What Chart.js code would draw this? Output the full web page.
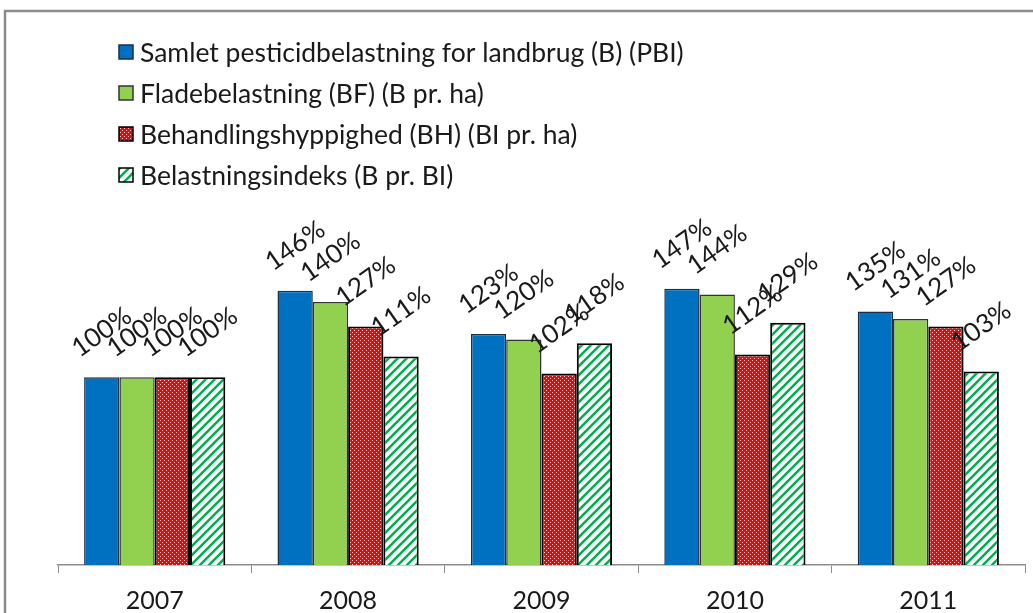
<!DOCTYPE html>
<html>
<head>
<meta charset="utf-8">
<script src="https://cdn.jsdelivr.net/npm/chart.js@4/dist/chart.umd.min.js"></script>
<style>
  html, body { margin: 0; padding: 0; background: #fff; }
  #wrap { width: 1033px; height: 613px; position: relative; }
</style>
</head>
<body>
<div id="wrap"><canvas id="chart" width="1033" height="613"></canvas></div>
<script>
  const years = ["2007", "2008", "2009", "2010", "2011"];
  const seriesNames = [
    "Samlet pesticidbelastning for landbrug (B) (PBI)",
    "Fladebelastning (BF) (B pr. ha)",
    "Behandlingshyppighed (BH) (BI pr. ha)",
    "Belastningsindeks (B pr. BI)"
  ];
  const pbi = [100, 146, 123, 147, 135];
  const bf = [100, 140, 120, 144, 131];
  const bh = [100, 127, 102, 112, 127];
  const bi = [100, 111, 118, 129, 103];

  const FONT = "Lato, 'Liberation Sans', sans-serif";

  // red with small white dots
  function dotPattern() {
    var c = document.createElement("canvas");
    c.width = 4; c.height = 4;
    var g = c.getContext("2d");
    g.fillStyle = "#ff0000";
    g.fillRect(0, 0, 4, 4);
    g.fillStyle = "#ffd0d0";
    g.fillRect(0, 0, 1, 1);
    g.fillRect(2, 2, 1, 1);
    return g.createPattern(c, "repeat");
  }

  // white with green "/" stripes
  function stripePattern() {
    var s = 9;
    var c = document.createElement("canvas");
    c.width = s; c.height = s;
    var g = c.getContext("2d");
    g.fillStyle = "#ffffff";
    g.fillRect(0, 0, s, s);
    g.strokeStyle = "#00b050";
    g.lineWidth = 2.6;
    g.beginPath();
    g.moveTo(-1, s + 1); g.lineTo(s + 1, -1);
    g.moveTo(-2, 2); g.lineTo(2, -2);
    g.moveTo(s - 2, s + 2); g.lineTo(s + 2, s - 2);
    g.stroke();
    return g.createPattern(c, "repeat");
  }

  // grey frame around the chart object (top and left edge visible)
  const framePlugin = {
    id: "frame",
    beforeDraw(chart) {
      var ctx = chart.ctx;
      ctx.save();
      ctx.strokeStyle = "#8c8c8c";
      ctx.lineWidth = 2.5;
      ctx.beginPath();
      ctx.moveTo(5, 613);
      ctx.lineTo(5, 11);
      ctx.lineTo(1033, 11);
      ctx.stroke();
      ctx.restore();
    }
  };

  // legend drawn inside the plot, one entry per line
  const legendPlugin = {
    id: "insideLegend",
    afterDraw(chart) {
      var ctx = chart.ctx;
      ctx.save();
      ctx.font = "26.5px " + FONT;
      ctx.textBaseline = "middle";
      ctx.textAlign = "left";
      chart.data.datasets.forEach(function (ds, i) {
        var y = 52 + i * 41;
        ctx.fillStyle = ds.backgroundColor;
        ctx.fillRect(119, y - 7, 14, 14);
        ctx.strokeStyle = ds.borderColor;
        ctx.lineWidth = 1.5;
        ctx.strokeRect(119, y - 7, 14, 14);
        ctx.fillStyle = "#1a1a1a";
        ctx.fillText(ds.label, 140, y + 1);
      });
      ctx.restore();
    }
  };

  // rotated value labels above each bar
  const valueLabels = {
    id: "valueLabels",
    afterDatasetsDraw(chart) {
      var ctx = chart.ctx;
      ctx.save();
      ctx.font = "26px " + FONT;
      ctx.fillStyle = "#1a1a1a";
      ctx.textAlign = "center";
      ctx.textBaseline = "middle";
      chart.data.datasets.forEach(function (ds, i) {
        chart.getDatasetMeta(i).data.forEach(function (bar, j) {
          ctx.save();
          ctx.translate(bar.x, bar.y - 45);
          ctx.rotate(-35 * Math.PI / 180);
          ctx.fillText(ds.data[j] + "%", 0, 0);
          ctx.restore();
        });
      });
      ctx.restore();
    }
  };

  var ctx = document.getElementById("chart");

  var chartGraph = new Chart(ctx, {
    type: "bar",
    data: {
      labels: years,
      datasets: [
        {
          label: seriesNames[0],
          data: pbi,
          backgroundColor: "#0070c0",
          borderColor: "#1c2e44",
          borderWidth: 1.5
        },
        {
          label: seriesNames[1],
          data: bf,
          backgroundColor: "#92d050",
          borderColor: "#333333",
          borderWidth: 1.5
        },
        {
          label: seriesNames[2],
          data: bh,
          backgroundColor: dotPattern(),
          borderColor: "#000000",
          borderWidth: 2
        },
        {
          label: seriesNames[3],
          data: bi,
          backgroundColor: stripePattern(),
          borderColor: "#000000",
          borderWidth: 2
        }
      ]
    },
    options: {
      responsive: false,
      animation: false,
      layout: { padding: { left: 58, right: 8, top: 39, bottom: -16 } },
      datasets: {
        bar: { categoryPercentage: 0.73, barPercentage: 1.0 }
      },
      plugins: {
        legend: { display: false },
        tooltip: { enabled: false }
      },
      scales: {
        x: {
          grid: {
            display: true,
            drawOnChartArea: false,
            drawTicks: true,
            tickLength: 8,
            color: "#8c8c8c",
            offset: true
          },
          border: { display: true, color: "#8c8c8c", width: 1.5 },
          ticks: {
            color: "#1a1a1a",
            padding: 13,
            font: { family: FONT, size: 25 }
          }
        },
        y: {
          display: false,
          min: 0,
          max: 280
        }
      }
    },
    plugins: [framePlugin, valueLabels, legendPlugin]
  });
</script>
</body>
</html>
